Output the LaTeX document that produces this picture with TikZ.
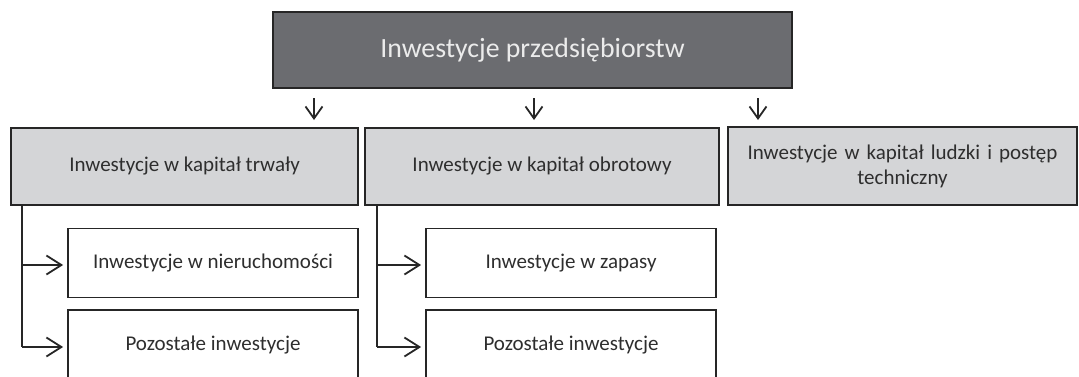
\documentclass[tikz,border=0pt]{standalone}
\usepackage{fontspec}
\setmainfont{Carlito}
\usetikzlibrary{arrows.meta}
\definecolor{darkbox}{HTML}{6B6C70}
\definecolor{lightbox}{HTML}{D4D5D7}
\definecolor{edge}{HTML}{262626}
\definecolor{txt}{HTML}{2E2E2E}
\begin{document}
\begin{tikzpicture}[x=1pt,y=-1pt,
  base/.style={draw=edge, line width=1.8pt, rectangle, inner sep=0pt, align=center, text=txt},
  topbox/.style={base, fill=darkbox, text=white!92!black, font=\fontsize{27.8}{33}\selectfont},
  midbox/.style={base, fill=lightbox, font=\fontsize{21}{25}\selectfont},
  subbox/.style={base, fill=white, font=\fontsize{21}{25}\selectfont},
  arr/.style={draw=edge, line width=1.8pt, -{Straight Barb[length=12pt,width=17pt,line width=1.8pt]}},
  harr/.style={draw=edge, line width=1.8pt, shorten >=4pt, -{Straight Barb[length=15pt,width=19pt,line width=1.8pt]}},
  link/.style={draw=edge, line width=1.8pt}]
\useasboundingbox (0,0) rectangle (1079,376);
\node[topbox, minimum width=519pt, minimum height=76pt] (top) at (532.5,50) {Inwestycje przedsiębiorstw};
\node[midbox, minimum width=347pt, minimum height=77pt] (b1) at (184.5,166.5) {Inwestycje w kapitał trwały};
\node[midbox, minimum width=354pt, minimum height=77pt] (b2) at (542,166.5) {Inwestycje w kapitał obrotowy};
\node[midbox, minimum width=349pt, minimum height=78pt, text width=330pt] (b3) at (902.5,166) {Inwestycje w kapitał ludzki i postęp\\techniczny};
\node[subbox, minimum width=290pt, minimum height=69pt] (s11) at (213,263) {Inwestycje w nieruchomości};
\node[subbox, minimum width=290pt, minimum height=69pt] (s12) at (213,344.5) {Pozostałe inwestycje};
\node[subbox, minimum width=290pt, minimum height=69pt] (s21) at (571,263) {Inwestycje w zapasy};
\node[subbox, minimum width=290pt, minimum height=69pt] (s22) at (571,344.5) {Pozostałe inwestycje};
% down arrows
\coordinate (a1s) at (314,98); \coordinate (a1e) at (314,120);
\coordinate (a2s) at (534,98); \coordinate (a2e) at (534,120);
\coordinate (a3s) at (758,98); \coordinate (a3e) at (758,120);
\draw[arr] (a1s) -- (a1e);
\draw[arr] (a2s) -- (a2e);
\draw[arr] (a3s) -- (a3e);
% branch lines
\coordinate (c1t) at (22,205); \coordinate (c1b) at (22,347);
\coordinate (c2t) at (377,205); \coordinate (c2b) at (377,347);
\draw[link] (c1t) -- (c1b);
\draw[link] (c2t) -- (c2b);
\draw[harr] (22,265) -- (s11.west |- 0,265);
\draw[harr] (c1b) -- (s12.west |- c1b);
\draw[harr] (377,265) -- (s21.west |- 0,265);
\draw[harr] (c2b) -- (s22.west |- c2b);
\end{tikzpicture}
\end{document}
